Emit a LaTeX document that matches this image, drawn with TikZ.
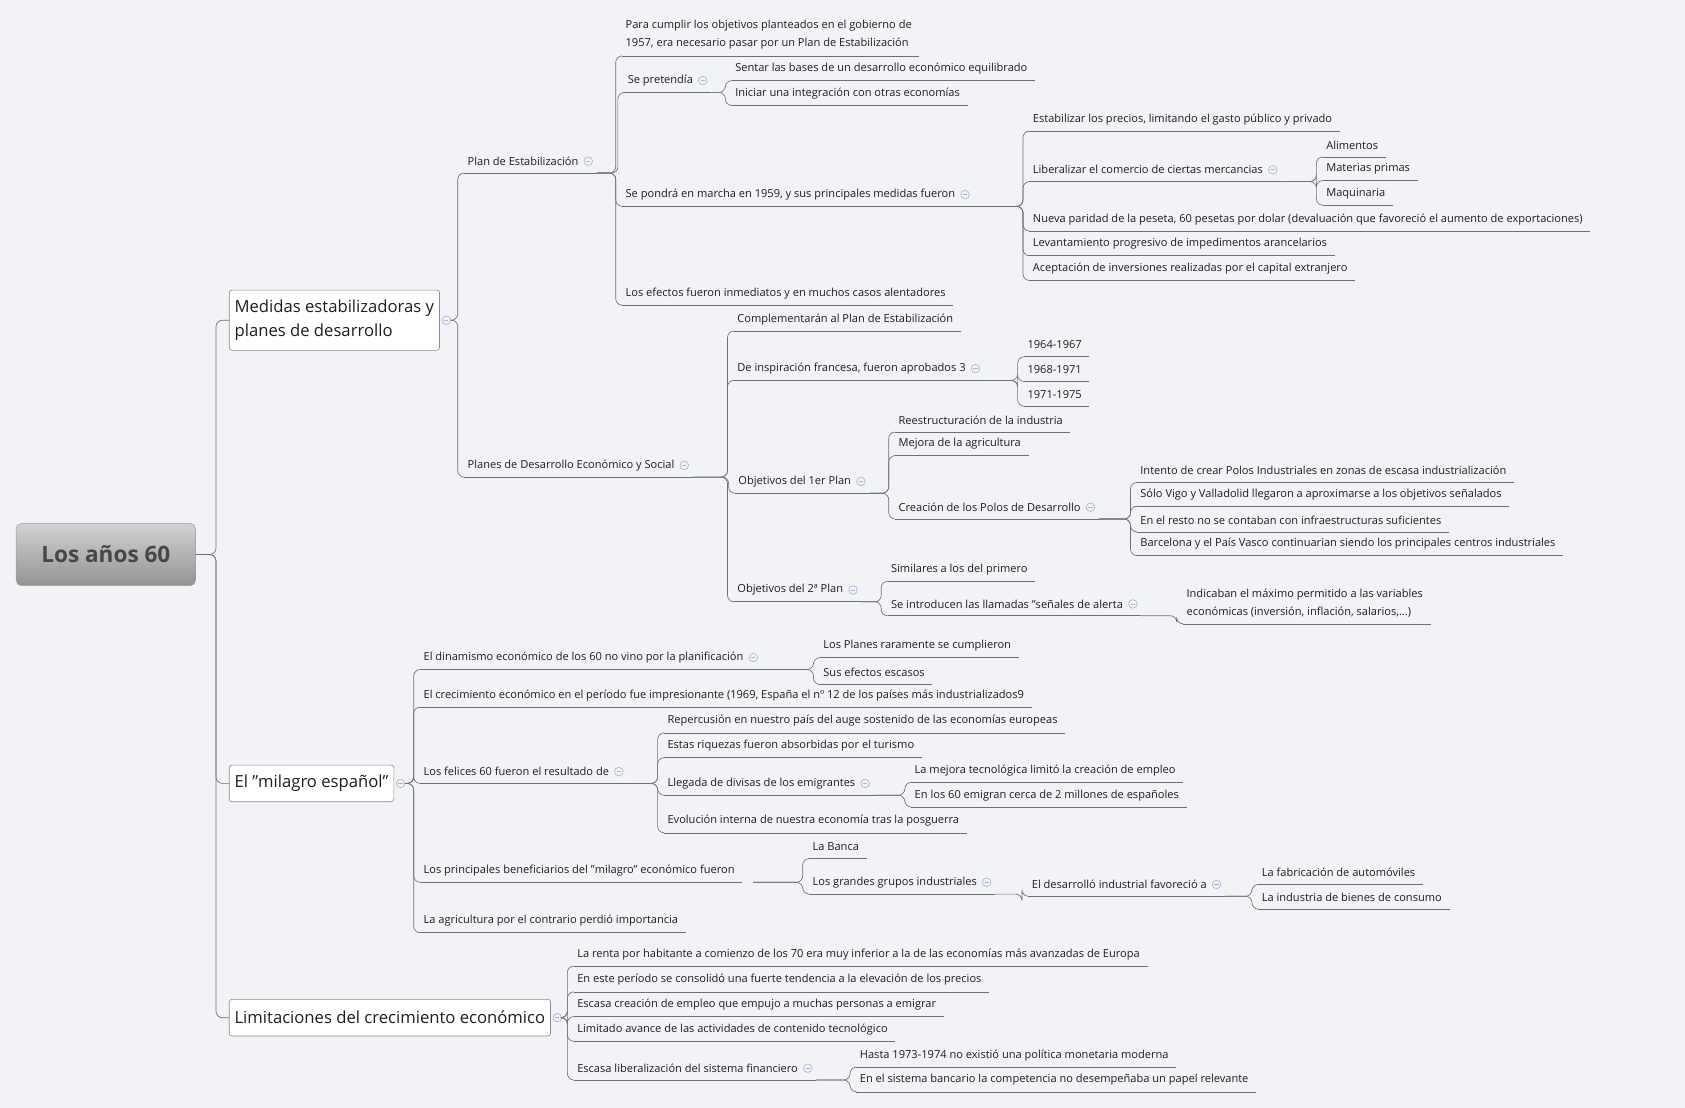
\documentclass[tikz,border=0pt]{standalone}
\usepackage{fontspec}
\setmainfont{Open Sans}
\usetikzlibrary{calc}
\definecolor{bg}{HTML}{F2F3F7}
\definecolor{ln}{HTML}{707070}
\definecolor{tx}{HTML}{1E1E1E}
\definecolor{cc}{HTML}{A8B4D0}
\tikzset{
 lf/.style={anchor=west,inner xsep=3pt,inner ysep=0pt,text=tx,font=\fontsize{10.3}{17}\selectfont,align=left},
 ul/.style={draw=ln,line width=0.6pt},
 cn/.style={draw=ln,line width=0.6pt,rounded corners=6pt},
 bx/.style={draw=ln!80,fill=white,rounded corners=2.5pt,text=tx,font=\fontsize{15.5}{22}\selectfont,align=left,anchor=west,inner xsep=5pt,line width=0.6pt},
 cir/.style={draw=cc,fill=bg,circle,minimum size=8pt,inner sep=0pt,line width=0.6pt},
}
% leaf: #1 underline offset, #2 name, #3 x, #4 y, #5 text
\newcommand\lf[5][11]{%
 \node[lf] (#2) at (#3-3,#4) {#5};
 \coordinate (#2-s) at ($(#2.west)+(0,#1)$);
 \draw[ul] (#2-s) -- ($(#2.east)+(4,#1)$);}
% parent: adds circle
\newcommand\pn[5][11]{%
 \node[lf] (#2) at (#3-3,#4) {#5};
 \coordinate (#2-s) at ($(#2.west)+(0,#1)$);
 \coordinate (#2-e) at ($(#2.east)+(14,#1)$);
 \draw[ul] (#2-s) -- (#2-e);
 \node[cir] (#2-c) at ($(#2.east)+(6,0)$) {};
 \draw[cc,line width=0.6pt] ($(#2-c)+(-2,0)$) -- ($(#2-c)+(2,0)$);}
\newcommand\cn[2]{\draw[cn] (#1-e) -| ($(#2-s)+(-6,0)$) -- (#2-s);}
\begin{document}
\begin{tikzpicture}[x=1pt,y=-1pt]
\fill[bg] (0,0) rectangle (1568,1031);
\useasboundingbox (0,0) rectangle (1568,1031);
% root
\node[rounded corners=5pt,draw=ln!70,top color=gray!35,bottom color=gray!85,minimum width=167pt,minimum height=58pt,text=black!72,font=\fontsize{21}{24}\bfseries\selectfont] (root) at (98.5,516) {Los años 60};
% main boxes
\node[bx,minimum height=56pt] (M1) at (213,298) {Medidas estabilizadoras y\\planes de desarrollo};
\node[bx,minimum height=34pt] (M2) at (213,729) {El "milagro español"};
\node[bx,minimum height=34pt] (M3) at (213,947) {Limitaciones del crecimiento económico};
\foreach \m in {M1,M2,M3}{
 \draw[cn] (root.east) -| ($(\m.west)+(-12,0)$) -- (\m.west);
 \node[cir] (\m-c) at ($(\m.east)+(6,0)$) {};
 \draw[cc,line width=0.6pt] ($(\m-c)+(-2,0)$) -- ($(\m-c)+(2,0)$);
 \coordinate (\m-e) at ($(\m.east)+(10,0)$);
}
% M1
\pn{A}{435}{150}{Plan de Estabilización}
\pn{B}{435}{433}{Planes de Desarrollo Económico y Social}
\cn{M1}{A}\cn{M1}{B}
\lf[19.5]{A1}{582}{32.5}{Para cumplir los objetivos planteados en el gobierno de\\1957, era necesario pasar por un Plan de Estabilización}
\pn{A2}{584}{75}{Se pretendía}
\pn{A3}{582}{181}{Se pondrá en marcha en 1959, y sus principales medidas fueron}
\lf{A4}{582}{273}{Los efectos fueron inmediatos y en muchos casos alentadores}
\cn{A}{A1}\cn{A}{A2}\cn{A}{A3}\cn{A}{A4}
\lf{A21}{684}{64}{Sentar las bases de un desarrollo económico equilibrado}
\lf{A22}{684}{87}{Iniciar una integración con otras economías}
\cn{A2}{A21}\cn{A2}{A22}
\lf{A31}{961}{111}{Estabilizar los precios, limitando el gasto público y privado}
\pn{A32}{961}{158}{Liberalizar el comercio de ciertas mercancias}
\lf{A33}{961}{204}{Nueva paridad de la peseta, 60 pesetas por dolar (devaluación que favoreció el aumento de exportaciones)}
\lf{A34}{961}{227}{Levantamiento progresivo de impedimentos arancelarios}
\lf{A35}{961}{250}{Aceptación de inversiones realizadas por el capital extranjero}
\cn{A3}{A31}\cn{A3}{A32}\cn{A3}{A33}\cn{A3}{A34}\cn{A3}{A35}
\lf{A321}{1234}{135}{Alimentos}
\lf{A322}{1234}{157}{Materias primas}
\lf{A323}{1234}{180}{Maquinaria}
\cn{A32}{A321}\cn{A32}{A322}\cn{A32}{A323}
\lf{B1}{686}{297}{Complementarán al Plan de Estabilización}
\pn{B2}{686}{343}{De inspiración francesa, fueron aprobados 3}
\pn{B3}{687}{448}{Objetivos del 1er Plan}
\pn{B4}{686}{549}{Objetivos del 2ª Plan}
\cn{B}{B1}\cn{B}{B2}\cn{B}{B3}\cn{B}{B4}
\lf{B21}{956}{321}{1964-1967}
\lf{B22}{956}{344}{1968-1971}
\lf{B23}{956}{367}{1971-1975}
\cn{B2}{B21}\cn{B2}{B22}\cn{B2}{B23}
\lf{B31}{836}{391}{Reestructuración de la industria}
\lf{B32}{836}{413}{Mejora de la agricultura}
\pn{B33}{836}{472}{Creación de los Polos de Desarrollo}
\cn{B3}{B31}\cn{B3}{B32}\cn{B3}{B33}
\lf{B331}{1061}{438}{Intento de crear Polos Industriales en zonas de escasa industrialización}
\lf{B332}{1061}{460}{Sólo Vigo y Valladolid llegaron a aproximarse a los objetivos señalados}
\lf{B333}{1061}{484}{En el resto no se contaban con infraestructuras suficientes}
\lf{B334}{1061}{506}{Barcelona y el País Vasco continuarian siendo los principales centros industriales}
\cn{B33}{B331}\cn{B33}{B332}\cn{B33}{B333}\cn{B33}{B334}
\lf{B41}{829}{530}{Similares a los del primero}
\pn{B42}{829}{562}{Se introducen las llamadas "señales de alerta}
\cn{B4}{B41}\cn{B4}{B42}
\lf[19.5]{B421}{1104}{561}{Indicaban el máximo permitido a las variables\\económicas (inversión, inflación, salarios,...)}
\cn{B42}{B421}
% M2
\pn{C1}{394}{612}{El dinamismo económico de los 60 no vino por la planificación}
\lf{C2}{394}{647}{El crecimiento económico en el período fue impresionante (1969, España el nº 12 de los países más industrializados9}
\pn{C3}{394}{718}{Los felices 60 fueron el resultado de}
\lf{C4}{394}{810}{Los principales beneficiarios del "milagro" económico fueron}
\coordinate (C4-e) at ($(C4.east)+(14,11)$);
\lf{C5}{394}{857}{La agricultura por el contrario perdió importancia}
\cn{M2}{C1}\cn{M2}{C2}\cn{M2}{C3}\cn{M2}{C4}\cn{M2}{C5}
\lf{C11}{766}{601}{Los Planes raramente se cumplieron}
\lf{C12}{766}{626}{Sus efectos escasos}
\cn{C1}{C11}\cn{C1}{C12}
\lf{C31}{621}{671}{Repercusión en nuestro país del auge sostenido de las economías europeas}
\lf{C32}{621}{694}{Estas riquezas fueron absorbidas por el turismo}
\pn{C33}{621}{729}{Llegada de divisas de los emigrantes}
\lf{C34}{621}{764}{Evolución interna de nuestra economía tras la posguerra}
\cn{C3}{C31}\cn{C3}{C32}\cn{C3}{C33}\cn{C3}{C34}
\lf{C331}{851}{717}{La mejora tecnológica limitó la creación de empleo}
\lf{C332}{851}{740}{En los 60 emigran cerca de 2 millones de españoles}
\cn{C33}{C331}\cn{C33}{C332}
\lf{C41}{756}{788}{La Banca}
\pn{C42}{756}{821}{Los grandes grupos industriales}
\cn{C4}{C41}\cn{C4}{C42}
\pn{C421}{960}{823}{El desarrolló industrial favoreció a}
\cn{C42}{C421}
\lf{C4211}{1174}{812}{La fabricación de automóviles}
\lf{C4212}{1174}{835}{La industria de bienes de consumo}
\cn{C421}{C4211}\cn{C421}{C4212}
% M3
\lf{D1}{537}{888}{La renta por habitante a comienzo de los 70 era muy inferior a la de las economías más avanzadas de Europa}
\lf{D2}{537}{912}{En este período se consolidó una fuerte tendencia a la elevación de los precios}
\lf{D3}{537}{935}{Escasa creación de empleo que empujo a muchas personas a emigrar}
\lf{D4}{537}{958}{Limitado avance de las actividades de contenido tecnológico}
\pn{D5}{537}{994}{Escasa liberalización del sistema financiero}
\cn{M3}{D1}\cn{M3}{D2}\cn{M3}{D3}\cn{M3}{D4}\cn{M3}{D5}
\lf{D51}{800}{982}{Hasta 1973-1974 no existió una política monetaria moderna}
\lf{D52}{800}{1005}{En el sistema bancario la competencia no desempeñaba un papel relevante}
\cn{D5}{D51}\cn{D5}{D52}
\end{tikzpicture}
\end{document}
